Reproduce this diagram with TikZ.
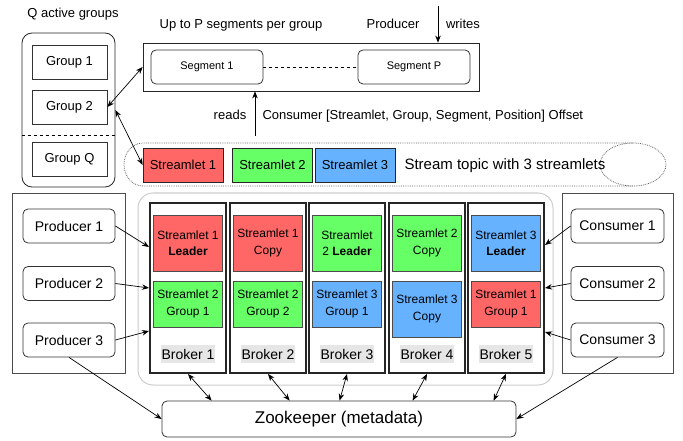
\documentclass[tikz,border=0pt]{standalone}
\usepackage{fontspec}
\setmainfont{Liberation Sans}
\usetikzlibrary{calc,arrows.meta}
\definecolor{slred}{HTML}{FF6666}
\definecolor{slgreen}{HTML}{66FF66}
\definecolor{slblue}{HTML}{66B2FF}
\definecolor{lblgray}{HTML}{E6E6E6}
\tikzset{
  plainbox/.style={draw=black!80, line width=0.8pt, minimum width=75pt, minimum height=34pt, inner sep=0pt, font=\fontsize{13}{15}\selectfont},
  roundbox/.style={draw=black!80, line width=0.8pt, rounded corners=5pt, inner sep=0pt, font=\fontsize{14}{16}\selectfont},
  outerbox/.style={draw=black!70, line width=0.8pt, inner sep=0pt},
  slbox/.style={draw=black!85, line width=0.8pt, minimum width=80pt, minimum height=34pt, inner sep=0pt, font=\fontsize{13}{15}\selectfont},
  brokerbox/.style={draw=black!85, line width=2pt, minimum width=76pt, minimum height=170pt, inner sep=0pt},
  cellbox/.style={draw=black!70, line width=1pt, minimum width=69pt, inner sep=0pt, align=center, font=\fontsize{12}{16.5}\selectfont},
  brokerlabel/.style={fill=lblgray, inner xsep=1pt, inner ysep=0pt, minimum height=18pt, font=\fontsize{14}{16}\selectfont},
  txt/.style={anchor=base, font=\fontsize{13}{15}\selectfont},
  arr/.style={-{Stealth[length=7pt,width=5.5pt]}, line width=0.7pt},
  darr/.style={{Stealth[length=7pt,width=5.5pt]}-{Stealth[length=7pt,width=5.5pt]}, line width=0.7pt},
}
\begin{document}
\begin{tikzpicture}[x=1pt,y=-1pt]
		%%%%% START %%%%%
		\useasboundingbox (0,0) rectangle (683,441);
		
		\node[outerbox, draw=black!85, rounded corners=10pt, minimum width=93pt, minimum height=154pt] (groups) at (68.5,110) {};
		\node[txt] (qlabel) at (73,18) {Q active groups};
		\node[plainbox] (g1) at (69.5,62.5) {Group 1};
		\node[plainbox] (g2) at (69.5,107) {Group 2};
		\node[plainbox] (gq) at (69.5,159) {Group Q};
		\draw[dashed, line width=0.8pt] (groups.west |- 0,135) -- (groups.east |- 0,135);
		
		\node[txt] (uplabel) at (241,29) {Up to P segments per group};
		\node[outerbox, draw=black!85, minimum width=336pt, minimum height=48pt] (segs) at (311,67) {};
		\node[roundbox, minimum width=112pt, minimum height=34pt, font=\fontsize{11}{13}\selectfont] (seg1) at (207,67) {Segment 1};
		\node[roundbox, minimum width=112pt, minimum height=34pt, font=\fontsize{11}{13}\selectfont] (segp) at (414,67) {Segment P};
		\draw[dashed, line width=0.7pt] (seg1) -- (segp);
		
		\coordinate (wtop) at (438,6);
		\draw[arr] (wtop) -- (wtop |- segs.north);
		\node[txt] (prodlabel) at (393,29) {Producer};
		\node[txt] (writes) at (463,29) {writes};
		
		\coordinate (rbot) at (255,136);
		\draw[arr] (rbot) -- (rbot |- segs.south);
		\node[txt] (reads) at (230,120) {reads};
		\node[txt, anchor=base west] (offset) at (259,120) {Consumer [Streamlet, Group, Segment, Position] Offset};
		
		\draw[densely dotted, black!60, line width=0.8pt] (633,143) -- (143,143) arc[start angle=270, end angle=90, x radius=19, y radius=21.5] -- (633,186);
		\draw[densely dotted, black!60, line width=0.8pt] (633,164.5) ellipse [x radius=33, y radius=21.5];
		\node[slbox, fill=slred] (s1) at (183,165) {Streamlet 1};
		\node[slbox, fill=slgreen] (s2) at (272.5,165) {Streamlet 2};
		\node[slbox, fill=slblue] (s3) at (355,165) {Streamlet 3};
		\node[txt, anchor=base west, font=\fontsize{15}{17}\selectfont] (topic) at (401,170) {Stream topic with 3 streamlets};
		
		\draw[darr] (g2.east) -- (segs.west);
		\draw[darr] (groups.east) -- (s1.west);
		
		\node[outerbox, minimum width=113pt, minimum height=180pt] (prods) at (68.5,283) {};
		\node[roundbox, minimum width=92pt, minimum height=34pt] (p1) at (69,226) {Producer 1};
		\node[roundbox, minimum width=92pt, minimum height=34pt] (p2) at (69,283.5) {Producer 2};
		\node[roundbox, minimum width=92pt, minimum height=34pt] (p3) at (69,340) {Producer 3};
		
		\node[outerbox, minimum width=111pt, minimum height=180pt] (cons) at (617.5,283) {};
		\node[roundbox, minimum width=93pt, minimum height=34pt] (c1) at (617.5,226) {Consumer 1};
		\node[roundbox, minimum width=93pt, minimum height=34pt] (c2) at (617.5,283.5) {Consumer 2};
		\node[roundbox, minimum width=93pt, minimum height=34pt] (c3) at (617.5,340) {Consumer 3};
		
		\node[draw=black!20, line width=1pt, rounded corners=15pt, minimum width=415pt, minimum height=192pt] (cluster) at (345.5,289) {};
		
		\node[brokerbox] (b1) at (188,288) {};
		\node[cellbox, fill=slred, minimum height=56pt] (b1top) at (188,243) {Streamlet 1\\\textbf{Leader}};
		\node[cellbox, fill=slgreen, minimum height=46pt] (b1mid) at (188,304) {Streamlet 2\\Group 1};
		\node[brokerlabel] (b1lbl) at (188,354) {Broker 1};
		
		\node[brokerbox] (b2) at (268,288) {};
		\node[cellbox, fill=slred, minimum height=56pt] (b2top) at (268,243) {Streamlet 1\\Copy};
		\node[cellbox, fill=slgreen, minimum height=46pt] (b2mid) at (268,304) {Streamlet 2\\Group 2};
		\node[brokerlabel] (b2lbl) at (268,354) {Broker 2};
		
		\node[brokerbox] (b3) at (347,288) {};
		\node[cellbox, fill=slgreen, minimum height=56pt] (b3top) at (347,243) {Streamlet\\2 \textbf{Leader}};
		\node[cellbox, fill=slblue, minimum height=46pt] (b3mid) at (347,304) {Streamlet 3\\Group 1};
		\node[brokerlabel] (b3lbl) at (347,354) {Broker 3};
		
		\node[brokerbox] (b4) at (427,288) {};
		\node[cellbox, fill=slgreen, minimum height=56pt] (b4top) at (427,243) {Streamlet 2\\Copy};
		\node[cellbox, fill=slblue, minimum height=56pt] (b4mid) at (427,309) {Streamlet 3\\Copy};
		\node[brokerlabel] (b4lbl) at (427,354) {Broker 4};
		
		\node[brokerbox] (b5) at (506,288) {};
		\node[cellbox, fill=slblue, minimum height=56pt] (b5top) at (506,243) {Streamlet 3\\\textbf{Leader}};
		\node[cellbox, fill=slred, minimum height=46pt] (b5mid) at (506,304) {Streamlet 1\\Group 1};
		\node[brokerlabel] (b5lbl) at (506,354) {Broker 5};
		
		\node[roundbox, minimum width=354pt, minimum height=36pt, font=\fontsize{17}{19}\selectfont] (zk) at (339,419) {Zookeeper (metadata)};
		
		\draw[arr] (p1.east) -- ($(b1.west)+(0,-41)$);
		\draw[arr] (p2.east) -- (b1.west);
		\draw[arr] (p3.east) -- ($(b1.west)+(0,43)$);
		\draw[arr] (p3.south) -- (zk.west);
		
		\draw[arr] (c1.west) -- ($(b5.east)+(0,-43)$);
		\draw[arr] (c2.west) -- (b5.east);
		\draw[arr] (c3.west) -- ($(b5.east)+(0,44)$);
		\draw[arr] (c3.south) -- (zk.east);
		
		\draw[darr] (b1.south) -- ($(zk.north west)+(50,0)$);
		\draw[darr] (b2.south) -- ($(zk.north west)+(128,0)$);
		\draw[darr] (b3.south) -- ($(zk.north west)+(178,0)$);
		\draw[darr] (b4.south) -- ($(zk.north west)+(251,0)$);
		\draw[darr] (b5.south) -- ($(zk.north west)+(332,0)$);
		
		%%%%% END %%%%%
\end{tikzpicture}
\end{document}
